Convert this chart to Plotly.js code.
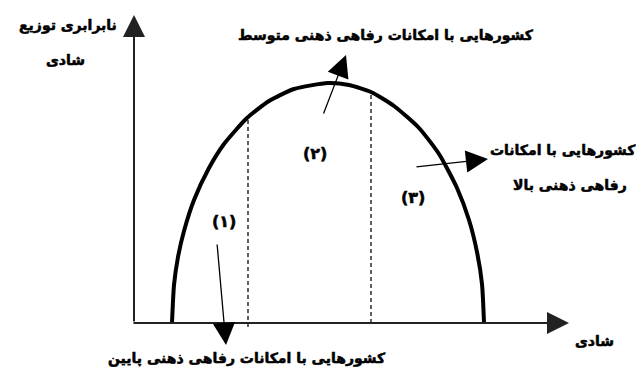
<!DOCTYPE html>
<html>
<head>
<meta charset="utf-8">
<script src="https://cdn.plot.ly/plotly-3.0.1.min.js"></script>
<style>
  html, body { margin: 0; padding: 0; background: #fff; }
  #chart { width: 643px; height: 374px; }
  .annotation-text { stroke: #000; stroke-width: 0.55px; paint-order: stroke; }
</style>
</head>
<body>
<div id="chart"></div>
<script>
// Curve: happiness (x) vs inequality of happiness distribution (y)
var curveX = [38, 40, 44, 50, 60, 75, 90, 113, 135, 160, 194, 215, 237, 260, 285, 305, 323, 335, 343, 348, 350];
var curveY = [0, 38, 66, 92, 123, 155, 179, 205, 222, 234, 240, 238, 231, 217, 195, 169, 135, 103, 71, 39, 0];

// Region boundaries (dashed lines): x position and top height
var boundaryX = [114, 237];
var boundaryTop = [204, 229];
var boundaryBottom = [-4, 0];

// Axis extents
var xAxisEnd = 435;
var yAxisEnd = 308;

// Texts
var yTitleLines = ['نابرابری توزیع', 'شادی'];
var xTitle = 'شادی';
var regionLabels = ['(۱)', '(۲)', '(۳)'];
var groupLow = 'کشورهایی با امکانات رفاهی ذهنی پایین';
var groupMid = 'کشورهایی با امکانات رفاهی ذهنی متوسط';
var groupHighLines = ['کشورهایی با امکانات', 'رفاهی ذهنی بالا'];

var FONT = 'DejaVu Sans, sans-serif';
var txtFont = {family: FONT, size: 14, color: '#000', weight: 'bold'};
var numFont = {family: FONT, size: 16, color: '#000', weight: 'bold'};

var traces = [];
// dashed boundaries
for (var i = 0; i < boundaryX.length; i++) {
  traces.push({
    type: 'scatter', mode: 'lines',
    x: [boundaryX[i], boundaryX[i]],
    y: [boundaryBottom[i], boundaryTop[i]],
    line: {color: '#3a3a3a', width: 1.6, dash: '4px,3px'},
    hoverinfo: 'skip', showlegend: false
  });
}
// main curve
traces.push({
  type: 'scatter', mode: 'lines',
  x: curveX, y: curveY,
  line: {color: '#000', width: 4, shape: 'spline', smoothing: 0.6},
  hoverinfo: 'skip', showlegend: false
});

function arrow(x0, y0, x1, y1, w, size, color) {
  return {
    x: x1, y: y1, ax: x0, ay: y0,
    xref: 'x', yref: 'y', axref: 'x', ayref: 'y',
    text: '', showarrow: true,
    arrowhead: 2, arrowwidth: w, arrowsize: size,
    arrowcolor: color || '#000', standoff: 0, startstandoff: 0
  };
}
function label(x, y, text, font) {
  return {
    x: x, y: y, xref: 'x', yref: 'y', text: '<b>' + text + '</b>',
    showarrow: false, font: font || txtFont, xanchor: 'center', yanchor: 'middle'
  };
}

var annotations = [
  // axes
  arrow(0, 0, 0, yAxisEnd, 2, 2.2, '#222'),
  arrow(-2, 0, xAxisEnd, 0, 2, 2.2, '#222'),
  // pointer arrows
  arrow(189, 208, 212, 268, 1.3, 3.4),
  arrow(281, 156, 354, 164, 1.3, 3.4),
  arrow(83, 80, 92, -22, 1.3, 3.4),
  // axis titles
  label(-66, 298, yTitleLines[0]),
  label(-69, 263, yTitleLines[1]),
  label(460, -18, xTitle),
  // region numbers
  label(90, 102, regionLabels[0], numFont),
  label(181, 170, regionLabels[1], numFont),
  label(279, 126, regionLabels[2], numFont),
  // group labels
  label(252, 288, groupMid),
  label(429, 173, groupHighLines[0]),
  label(436, 138, groupHighLines[1]),
  label(113, -35, groupLow)
];

var layout = {
  width: 643, height: 374,
  margin: {l: 0, r: 0, t: 0, b: 0},
  paper_bgcolor: '#fff', plot_bgcolor: '#fff',
  xaxis: {range: [-134, 509], visible: false, fixedrange: true},
  yaxis: {range: [-51, 323], visible: false, fixedrange: true},
  annotations: annotations,
  showlegend: false
};

Plotly.newPlot('chart', traces, layout, {displayModeBar: false, staticPlot: true});
</script>
</body>
</html>
